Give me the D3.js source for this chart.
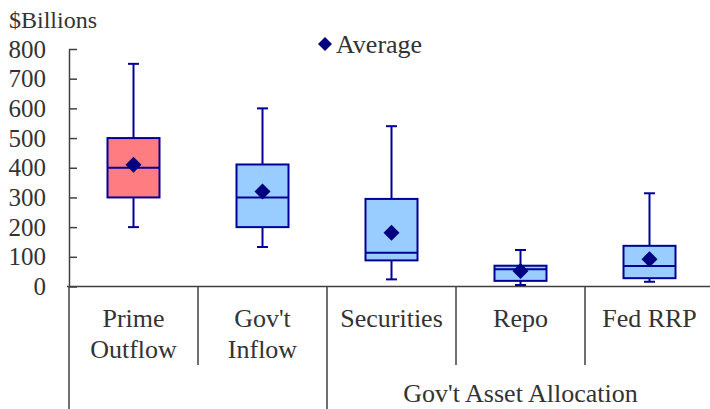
<!DOCTYPE html>
<html>
<head>
<meta charset="utf-8">
<script src="https://cdn.jsdelivr.net/npm/d3@7"></script>
<style>
  body { margin: 0; background: #fff; }
</style>
</head>
<body>
<script>
// categories, two label lines each
let categories = ["Prime Outflow", "Gov't Inflow", "Securities", "Repo", "Fed RRP"];
let labelLines = [["Prime", "Outflow"], ["Gov't", "Inflow"], ["Securities"], ["Repo"], ["Fed RRP"]];

// box plot stats ($ billions)
let whiskerLow = [200, 133, 24, 5, 16];
let q1 = [300, 200, 88, 19, 28];
let median = [400, 300, 114, 58, 69];
let q3 = [500, 411, 295, 70, 137];
let whiskerHigh = [750, 600, 540, 123, 314];
let average = [410, 320, 181, 52, 92];

let yTicks = [0, 100, 200, 300, 400, 500, 600, 700, 800];
let groupLabel = "Gov't Asset Allocation";

let width = 710, height = 409;
let margin = {left: 69, top: 49, bottom: 122};
let font = "'Liberation Serif', 'Times New Roman', Times, 'DejaVu Serif', serif";

let data = categories.map((c, i) => ({
    name: c, lines: labelLines[i], lo: whiskerLow[i], q1: q1[i], med: median[i],
    q3: q3[i], hi: whiskerHigh[i], avg: average[i]
}));

let svg = d3.select("body").append("svg").attr("width", width).attr("height", height)
    .attr("font-family", font);

let x = d3.scaleBand().domain(categories).range([margin.left, margin.left + 129 * 5]).padding(0);
let y = d3.scaleLinear().domain([0, 800]).range([height - margin.bottom - 0.5, margin.top]);

// y axis, ticks pointing inward
let yAxis = d3.axisLeft(y).tickValues(yTicks).tickSize(-8).tickPadding(23).tickSizeOuter(0);
let yG = svg.append("g").attr("transform", "translate(" + margin.left + ",0)").call(yAxis)
    .attr("font-family", font).attr("font-size", 25);
yG.selectAll("path, line").attr("stroke", "#404040").attr("stroke-width", 1.5);
yG.selectAll("text").attr("fill", "#333");

// x axis line and separators
let y0 = y(0);
svg.append("line").attr("x1", margin.left - 2).attr("x2", width).attr("y1", y0).attr("y2", y0)
    .attr("stroke", "#404040").attr("stroke-width", 1.5);
categories.forEach((c, i) => {
    let xs = x(c);
    let long = (i === 0 || i === 2);
    svg.append("line").attr("x1", xs).attr("x2", xs).attr("y1", y0).attr("y2", long ? height : 365)
        .attr("stroke", "#404040").attr("stroke-width", 1.5);
});

// category labels
data.forEach((d) => {
    let cx = x(d.name) + x.bandwidth() / 2;
    d.lines.forEach((l, j) => {
        svg.append("text").attr("x", cx).attr("y", 327 + j * 31).attr("text-anchor", "middle")
            .attr("font-size", 26).attr("fill", "#333").text(l);
    });
});
svg.append("text").attr("x", (x("Securities") + x("Fed RRP") + x.bandwidth()) / 2).attr("y", 402)
    .attr("text-anchor", "middle").attr("font-size", 26).attr("fill", "#333").text(groupLabel);

// boxes
let boxW = 52, capW = 11;
let stroke = "#000099";
let g = svg.selectAll(".box").data(data).enter().append("g").attr("class", "box")
    .attr("transform", (d) => "translate(" + (x(d.name) + x.bandwidth() / 2) + ",0)");

g.append("line").attr("x1", 0).attr("x2", 0).attr("y1", (d) => y(d.lo)).attr("y2", (d) => y(d.hi))
    .attr("stroke", stroke).attr("stroke-width", 2);
g.append("line").attr("x1", -capW / 2).attr("x2", capW / 2).attr("y1", (d) => y(d.hi)).attr("y2", (d) => y(d.hi))
    .attr("stroke", stroke).attr("stroke-width", 2);
g.append("line").attr("x1", -capW / 2).attr("x2", capW / 2).attr("y1", (d) => y(d.lo)).attr("y2", (d) => y(d.lo))
    .attr("stroke", stroke).attr("stroke-width", 2);
g.append("rect").attr("x", -boxW / 2).attr("width", boxW)
    .attr("y", (d) => y(d.q3)).attr("height", (d) => y(d.q1) - y(d.q3))
    .attr("fill", (d, i) => i === 0 ? "#FF7C80" : "#99CCFF")
    .attr("stroke", stroke).attr("stroke-width", 2);
g.append("line").attr("x1", -boxW / 2).attr("x2", boxW / 2).attr("y1", (d) => y(d.med)).attr("y2", (d) => y(d.med))
    .attr("stroke", stroke).attr("stroke-width", 2);

let diamond = d3.symbol().type(d3.symbolSquare).size(128);
g.append("path").attr("d", diamond())
    .attr("transform", (d) => "translate(0," + y(d.avg) + ") rotate(45)")
    .attr("fill", "#000080");

// legend
svg.append("path").attr("d", d3.symbol().type(d3.symbolSquare).size(98)())
    .attr("transform", "translate(325,44) rotate(45)").attr("fill", "#000080");
svg.append("text").attr("x", 336).attr("y", 53).attr("font-size", 26).attr("fill", "#333").text("Average");

// unit label
svg.append("text").attr("x", 9).attr("y", 28).attr("font-size", 24).attr("fill", "#333").text("$Billions");
</script>
</body>
</html>
